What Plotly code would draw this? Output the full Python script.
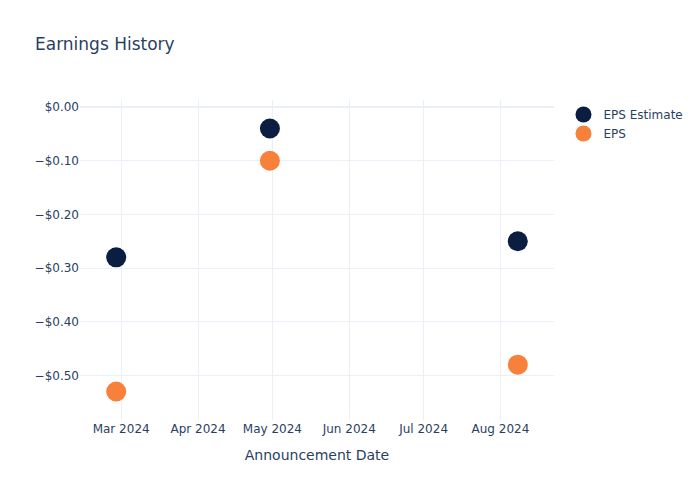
import plotly.graph_objects as go

dates = ["2024-02-28", "2024-04-30", "2024-08-08"]
eps_estimate = [-0.28, -0.04, -0.25]
eps_actual = [-0.53, -0.10, -0.48]

W, H = 692, 492

fig = go.Figure()
fig.add_trace(go.Scatter(x=dates, y=eps_estimate, mode="markers", name="EPS Estimate",
                         marker=dict(color="#0b1e41", size=20)))
fig.add_trace(go.Scatter(x=dates, y=eps_actual, mode="markers", name="EPS",
                         marker=dict(color="#f7803a", size=20)))
fig.update_layout(
    template="plotly_white",
    width=W, height=H,
    font=dict(family="DejaVu Sans"),
    margin=dict(l=72, r=80, t=92, b=80),
    title=dict(text="Earnings History", x=27 / W, xanchor="left",
               y=1 - 36 / H, yanchor="middle"),
    xaxis=dict(title="Announcement Date", type="date"),
    yaxis=dict(tickformat="$.2f"),
)
fig.write_html("out.html")
